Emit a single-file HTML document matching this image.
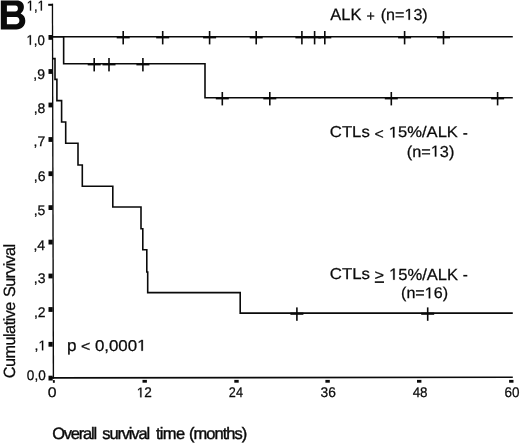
<!DOCTYPE html>
<html><head><meta charset="utf-8"><style>
html,body{margin:0;padding:0;background:#fff;}
body{width:520px;height:443px;overflow:hidden;}
svg{display:block;filter:grayscale(1);}
text{font-family:"Liberation Sans",sans-serif;fill:#0a0a0a;stroke:#0a0a0a;stroke-width:0.25px;text-rendering:geometricPrecision;}
.h{fill-opacity:0;stroke-opacity:0;}
.hv{stroke-width:0.4px;}
.one{fill:#0a0a0a;stroke:#0a0a0a;}
</style></head><body>
<svg width="520" height="443" viewBox="0 0 520 443">
<rect width="520" height="443" fill="#fff"/>
<path d="M0.8 0.5 H16.5 C21.2 0.5 23.9 3 23.9 7 C23.9 9.9 22.6 11.9 20.6 13.5 C23.6 14.7 25.3 17.3 25.3 20.8 C25.3 26.1 21.7 29.5 16.4 29.5 H0.8 Z M6.9 5.4 H15.4 C17 5.4 17.9 6.7 17.9 8.4 C17.9 10.2 16.9 11.5 15.2 11.5 H6.9 Z M6.9 17.0 H16.4 C18.3 17 19.4 18.6 19.4 20.6 C19.4 22.7 18.2 24.2 16.3 24.2 H6.9 Z" fill="#0a0a0a" fill-rule="evenodd"/>
<g fill="#0a0a0a">
<polygon points="51.8,3.8 53.1,3.8 54.1,378.7 52.7,378.7"/><polygon points="52,376.9 512.8,376.5 512.8,378.1 52,378.7"/>
<rect x="48.5" y="35.00" width="4.2" height="4.8"/><rect x="48.5" y="69.10" width="4.2" height="4.8"/><rect x="48.5" y="102.60" width="4.2" height="4.8"/><rect x="48.5" y="137.10" width="4.2" height="4.8"/><rect x="48.5" y="171.30" width="4.2" height="4.8"/><rect x="48.5" y="205.20" width="4.2" height="4.8"/><rect x="48.5" y="239.70" width="4.2" height="4.8"/><rect x="48.5" y="273.60" width="4.2" height="4.8"/><rect x="48.5" y="307.10" width="4.2" height="4.8"/><rect x="48.5" y="341.90" width="4.2" height="4.8"/><rect x="48.5" y="375.70" width="4.2" height="4.8"/><rect x="48.2" y="3.8" width="4.8" height="2"/>
<rect x="52.9" y="380.1" width="1.9" height="2.7"/><rect x="142.50" y="379.9" width="4.4" height="2.8"/><rect x="234.30" y="379.9" width="4.4" height="2.8"/><rect x="325.40" y="379.9" width="4.4" height="2.8"/><rect x="417.00" y="379.9" width="4.4" height="2.8"/><rect x="509.10" y="379.9" width="4.4" height="2.8"/>
</g>
<g fill="none" stroke="#0a0a0a" stroke-width="1.6" stroke-linejoin="miter" stroke-linecap="butt">
<path d="M52.6 36.7 H512.8"/>
<path d="M52.6 36.7 H63.65 V63.7 H205 V97.7 H512.8"/>
<path d="M52.6 58.6 H55 V79.4 H56.9 V100.6 H61.6 V122 H65.7 V143.3 H78 V165 H82.3 V186.2 H112.8 V207 H141 V228.7 H142.8 V249.8 H146.8 V272 H147.7 V292.6 H240.2 V313.1 H512.8"/>
</g>
<g fill="#0a0a0a"><rect x="122.40" y="31.00" width="1.6" height="13.4"/><rect x="116.70" y="36.20" width="13" height="2.2"/><rect x="161.90" y="31.00" width="1.6" height="13.4"/><rect x="156.20" y="36.20" width="13" height="2.2"/><rect x="208.80" y="31.00" width="1.6" height="13.4"/><rect x="203.10" y="36.20" width="13" height="2.2"/><rect x="255.40" y="31.00" width="1.6" height="13.4"/><rect x="249.70" y="36.20" width="13" height="2.2"/><rect x="301.10" y="31.00" width="1.6" height="13.4"/><rect x="295.40" y="36.20" width="13" height="2.2"/><rect x="313.80" y="31.00" width="1.6" height="13.4"/><rect x="308.10" y="36.20" width="13" height="2.2"/><rect x="324.00" y="31.00" width="1.6" height="13.4"/><rect x="318.30" y="36.20" width="13" height="2.2"/><rect x="403.80" y="31.00" width="1.6" height="13.4"/><rect x="398.10" y="36.20" width="13" height="2.2"/><rect x="442.70" y="31.00" width="1.6" height="13.4"/><rect x="437.00" y="36.20" width="13" height="2.2"/><rect x="93.40" y="58.00" width="1.6" height="13.4"/><rect x="87.70" y="63.20" width="13" height="2.2"/><rect x="108.20" y="58.00" width="1.6" height="13.4"/><rect x="102.50" y="63.20" width="13" height="2.2"/><rect x="142.10" y="58.00" width="1.6" height="13.4"/><rect x="136.40" y="63.20" width="13" height="2.2"/><rect x="221.50" y="92.00" width="1.6" height="13.4"/><rect x="215.80" y="97.20" width="13" height="2.2"/><rect x="269.00" y="92.00" width="1.6" height="13.4"/><rect x="263.30" y="97.20" width="13" height="2.2"/><rect x="390.50" y="92.00" width="1.6" height="13.4"/><rect x="384.80" y="97.20" width="13" height="2.2"/><rect x="496.80" y="92.00" width="1.6" height="13.4"/><rect x="491.10" y="97.20" width="13" height="2.2"/><rect x="296.10" y="307.40" width="1.6" height="13.4"/><rect x="290.40" y="312.60" width="13" height="2.2"/><rect x="426.90" y="307.40" width="1.6" height="13.4"/><rect x="421.20" y="312.60" width="13" height="2.2"/></g>
<g><g transform="translate(26.67,10.50) scale(0.9281,1)"><text style="font-size:14px;font-weight:normal"><tspan class="h">1</tspan>,<tspan class="h">1</tspan></text><path class="one" transform="translate(0.000,0) scale(0.00684,-0.00684)" style="stroke-width:36.6" d="M515 0L515 1237L197 1010L197 1180L530 1409L696 1409L696 0Z"/><path class="one" transform="translate(11.688,0) scale(0.00684,-0.00684)" style="stroke-width:36.6" d="M515 0L515 1237L197 1010L197 1180L530 1409L696 1409L696 0Z"/></g><g transform="translate(26.44,44.80) scale(0.9448,1)"><text style="font-size:14px;font-weight:normal"><tspan class="h">1</tspan>,0</text><path class="one" transform="translate(0.000,0) scale(0.00684,-0.00684)" style="stroke-width:36.6" d="M515 0L515 1237L197 1010L197 1180L530 1409L696 1409L696 0Z"/></g><g transform="translate(33.31,78.50) scale(1.0000,1)"><text style="font-size:14px;font-weight:normal">,9</text></g><g transform="translate(33.69,112.90) scale(1.0000,1)"><text style="font-size:14px;font-weight:normal">,8</text></g><g transform="translate(33.51,145.50) scale(1.0000,1)"><text style="font-size:14px;font-weight:normal">,7</text></g><g transform="translate(33.84,180.70) scale(1.0000,1)"><text style="font-size:14px;font-weight:normal">,6</text></g><g transform="translate(33.64,215.20) scale(1.0000,1)"><text style="font-size:14px;font-weight:normal">,5</text></g><g transform="translate(33.43,249.50) scale(1.0000,1)"><text style="font-size:14px;font-weight:normal">,4</text></g><g transform="translate(33.84,282.50) scale(1.0000,1)"><text style="font-size:14px;font-weight:normal">,3</text></g><g transform="translate(33.91,316.50) scale(1.0000,1)"><text style="font-size:14px;font-weight:normal">,2</text></g><g transform="translate(34.55,350.30) scale(1.0000,1)"><text style="font-size:14px;font-weight:normal">,<tspan class="h">1</tspan></text><path class="one" transform="translate(3.891,0) scale(0.00684,-0.00684)" style="stroke-width:36.6" d="M515 0L515 1237L197 1010L197 1180L530 1409L696 1409L696 0Z"/></g><g transform="translate(26.86,379.50) scale(0.9706,1)"><text style="font-size:14px;font-weight:normal">0,0</text></g></g>
<g><g transform="translate(47.67,397.30) scale(1.1278,1)"><text style="font-size:14px;font-weight:normal">0</text></g><g transform="translate(136.81,397.30) scale(0.9697,1)"><text style="font-size:14px;font-weight:normal"><tspan class="h">1</tspan>2</text><path class="one" transform="translate(0.000,0) scale(0.00684,-0.00684)" style="stroke-width:36.6" d="M515 0L515 1237L197 1010L197 1180L530 1409L696 1409L696 0Z"/></g><g transform="translate(228.87,397.30) scale(0.9041,1)"><text style="font-size:14px;font-weight:normal">24</text></g><g transform="translate(320.55,397.30) scale(0.9847,1)"><text style="font-size:14px;font-weight:normal">36</text></g><g transform="translate(412.67,397.30) scale(0.9569,1)"><text style="font-size:14px;font-weight:normal">48</text></g><g transform="translate(504.53,397.30) scale(0.9617,1)"><text style="font-size:14px;font-weight:normal">60</text></g></g>
<g><g transform="translate(330.32,19.70) scale(0.9982,1)"><text style="font-size:16.5px;font-weight:normal">ALK</text></g><g transform="translate(366.49,21.04) scale(0.9580,1)"><text style="font-size:14.85px;font-weight:normal">+</text></g><g transform="translate(380.73,19.76) scale(1.0184,1)"><text style="font-size:15.81px;font-weight:normal">(n=<tspan class="h">1</tspan>3)</text><path class="one" transform="translate(23.281,0) scale(0.00772,-0.00772)" style="stroke-width:32.4" d="M515 0L515 1237L197 1010L197 1180L530 1409L696 1409L696 0Z"/></g><g transform="translate(329.87,137.24) scale(1.0587,1)"><text style="font-size:15.77px;font-weight:normal">CTLs</text></g><g transform="translate(374.61,138.94) scale(1.0411,1)"><text style="font-size:15.25px;font-weight:normal">&lt;</text></g><g transform="translate(388.82,137.45) scale(1.0785,1)"><text style="font-size:15.37px;font-weight:normal"><tspan class="h">1</tspan>5%/ALK</text><path class="one" transform="translate(0.000,0) scale(0.00750,-0.00750)" style="stroke-width:33.3" d="M515 0L515 1237L197 1010L197 1180L530 1409L696 1409L696 0Z"/></g><rect x="463.3" y="133.1" width="4" height="1.6" fill="#0a0a0a"/><g transform="translate(406.82,156.56) scale(1.0297,1)"><text style="font-size:15.81px;font-weight:normal">(n=<tspan class="h">1</tspan>3)</text><path class="one" transform="translate(23.281,0) scale(0.00772,-0.00772)" style="stroke-width:32.4" d="M515 0L515 1237L197 1010L197 1180L530 1409L696 1409L696 0Z"/></g><g transform="translate(329.86,279.24) scale(1.0642,1)"><text style="font-size:15.77px;font-weight:normal">CTLs</text></g><g transform="translate(374.59,280.40) scale(1.1119,1)"><text style="font-size:14.65px;font-weight:normal">&gt;</text></g><rect x="374.8" y="281.3" width="9.2" height="1.6" fill="#0a0a0a"/><g transform="translate(389.02,279.64) scale(1.0328,1)"><text style="font-size:16.05px;font-weight:normal"><tspan class="h">1</tspan>5%/ALK</text><path class="one" transform="translate(0.000,0) scale(0.00784,-0.00784)" style="stroke-width:31.9" d="M515 0L515 1237L197 1010L197 1180L530 1409L696 1409L696 0Z"/></g><rect x="463.3" y="274.9" width="4" height="1.6" fill="#0a0a0a"/><g transform="translate(401.03,298.30) scale(1.0327,1)"><text style="font-size:15.59px;font-weight:normal">(n=<tspan class="h">1</tspan>6)</text><path class="one" transform="translate(22.953,0) scale(0.00761,-0.00761)" style="stroke-width:32.8" d="M515 0L515 1237L197 1010L197 1180L530 1409L696 1409L696 0Z"/></g><g transform="translate(66.89,350.76) scale(1.0209,1)"><text style="font-size:16.76px;font-weight:normal">p</text></g><g transform="translate(81.01,351.25) scale(1.1292,1)"><text style="font-size:14.06px;font-weight:normal">&lt;</text></g><g transform="translate(94.92,350.73) scale(1.0709,1)"><text style="font-size:15.76px;font-weight:normal">0,000<tspan class="h">1</tspan></text><path class="one" transform="translate(39.422,0) scale(0.00770,-0.00770)" style="stroke-width:32.5" d="M515 0L515 1237L197 1010L197 1180L530 1409L696 1409L696 0Z"/></g><g transform="translate(52.16,438.50)"><text class="hv" style="letter-spacing:-1.201px;font-size:16.5px;font-weight:normal">Overall</text></g><g transform="translate(102.30,438.50)"><text class="hv" style="letter-spacing:-1.167px;font-size:16.5px;font-weight:normal">survival</text></g><g transform="translate(155.95,438.50)"><text class="hv" style="letter-spacing:-0.665px;font-size:16.5px;font-weight:normal">time</text></g><g transform="translate(189.01,438.50)"><text class="hv" style="letter-spacing:-0.973px;font-size:16.5px;font-weight:normal">(months)</text></g><g transform="translate(14.69,378.31) rotate(-90)"><text style="letter-spacing:-0.526px;font-size:16.3px;font-weight:normal">Cumulative</text></g><g transform="translate(14.69,297.03) rotate(-90)"><text style="letter-spacing:-0.693px;font-size:16.3px;font-weight:normal">Survival</text></g></g>
</svg>
</body></html>
